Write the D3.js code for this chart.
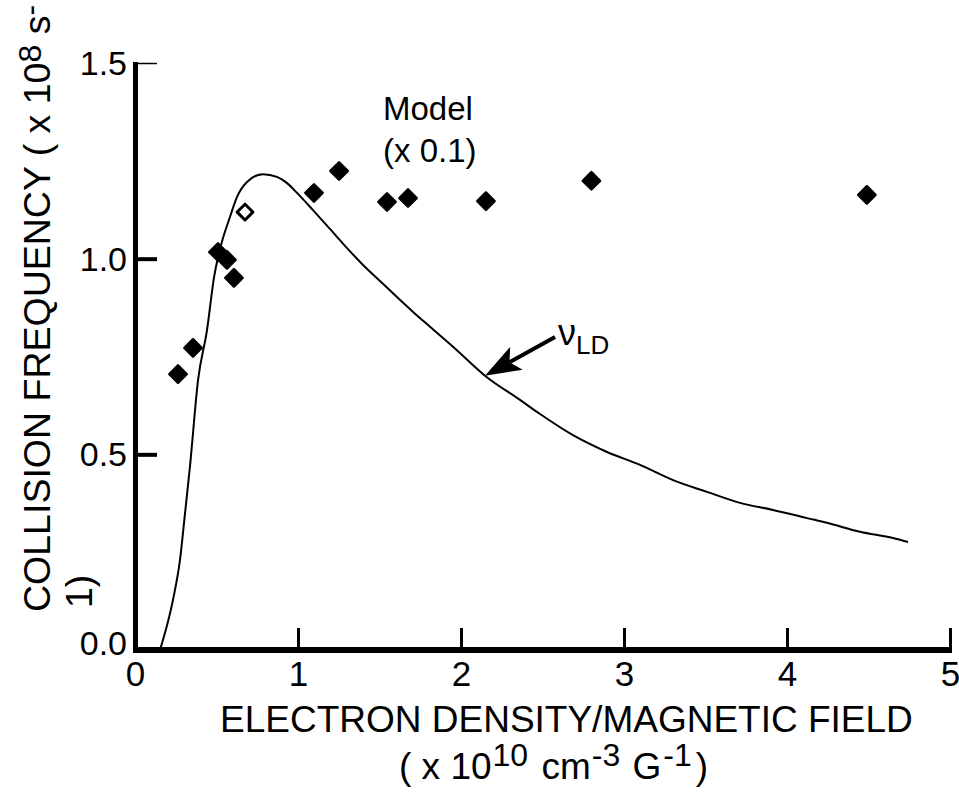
<!DOCTYPE html>
<html>
<head>
<meta charset="utf-8">
<script src="https://cdn.jsdelivr.net/npm/d3@7"></script>
<style>
  html, body { margin: 0; padding: 0; background: #fff; }
  svg { display: block; }
  text { font-family: "Liberation Sans", Arial, Helvetica, sans-serif; fill: #000; }
</style>
</head>
<body>
<svg id="chart" width="959" height="792"></svg>
<script>
// Theory curve: nu_LD versus n_e/B
const curveX = [0.153, 0.172, 0.233, 0.276, 0.307, 0.337, 0.387, 0.442, 0.485, 0.528,
                0.583, 0.626, 0.687, 0.785, 0.871, 0.933, 0.994, 1.092, 1.196, 1.301,
                1.399, 1.503, 1.607, 1.706, 1.810, 1.951, 2.147, 2.362, 2.485, 2.687,
                2.896, 3.098, 3.301, 3.509, 3.712, 3.914, 4.123, 4.245, 4.448, 4.650, 4.742];
const curveY = [0.000, 0.026, 0.128, 0.230, 0.350, 0.468, 0.690, 0.818, 0.953, 1.035,
                1.107, 1.158, 1.196, 1.216, 1.209, 1.193, 1.168, 1.124, 1.076, 1.027,
                0.984, 0.943, 0.902, 0.864, 0.826, 0.775, 0.701, 0.639, 0.603, 0.549,
                0.506, 0.473, 0.434, 0.404, 0.376, 0.358, 0.337, 0.325, 0.302, 0.286, 0.276];

// Model points (x 0.1), filled diamonds
const modelX = [0.264, 0.356, 0.509, 0.564, 0.607, 1.098, 1.252, 1.546, 1.675, 2.153, 2.80, 4.49];
const modelY = [0.705, 0.772, 1.017, 0.997, 0.951, 1.168, 1.224, 1.145, 1.155, 1.147, 1.199, 1.163];

// Open diamond
const openX = [0.675];
const openY = [1.119];

// Axis ticks
const xTicks = [0, 1, 2, 3, 4, 5];
const yTicks = [0.0, 0.5, 1.0, 1.5];

// nu_LD annotation arrow (tail near label, tip on the curve)
const arrowTail = [2.577, 0.800];
const arrowTip = [2.147, 0.701];

const svg = d3.select("#chart");

const x = d3.scaleLinear().domain([0, 5]).range([135, 950]);
const y = d3.scaleLinear().domain([0, 1.5]).range([650, 63]);

// ---- axes ----
const xAxis = d3.axisBottom(x)
  .tickValues(xTicks)
  .tickSize(-22)
  .tickSizeOuter(0)
  .tickPadding(11)
  .tickFormat(d3.format("d"));

const gx = svg.append("g").attr("transform", `translate(0,${y(0)})`).call(xAxis);
gx.select(".domain").remove();
gx.selectAll(".tick line").style("stroke", "#000").style("stroke-width", "3px")
  .filter(d => d === 0).remove();
gx.selectAll(".tick text").attr("font-size", 35).attr("font-family", null);

const yAxis = d3.axisLeft(y)
  .tickValues(yTicks)
  .tickSize(-22)
  .tickSizeOuter(0)
  .tickPadding(8)
  .tickFormat(d3.format(".1f"));

const gy = svg.append("g").attr("transform", `translate(${x(0)},0)`).call(yAxis);
gy.select(".domain").remove();
gy.selectAll(".tick line")
  .style("stroke", "#000")
  .style("stroke-width", d => d === 1.5 ? "1.5px" : "4px")
  .attr("x1", 2);
gy.selectAll(".tick line").filter(d => d === 0).remove();
gy.selectAll(".tick text").attr("font-size", 34).attr("font-family", null)
  .attr("dy", d => d === 0 ? "0.12em" : "0.34em");

// heavy axis frame
svg.append("rect")
  .attr("x", x(0) - 2).attr("width", 5)
  .attr("y", y(1.5) - 1).attr("height", y(0) + 3 - (y(1.5) - 1))
  .attr("fill", "#000");
svg.append("rect")
  .attr("x", x(0) - 2).attr("width", x(5) + 2 - (x(0) - 2))
  .attr("y", y(0) - 3).attr("height", 6)
  .attr("fill", "#000");

// ---- theory curve ----
const line = d3.line()
  .x(d => x(d[0]))
  .y(d => y(d[1]))
  .curve(d3.curveMonotoneX);

svg.append("path")
  .datum(curveX.map((v, i) => [v, curveY[i]]))
  .attr("d", line)
  .attr("fill", "none")
  .style("stroke", "#000")
  .style("stroke-width", "2px");

// ---- model points ----
const diamond = d3.symbol().type(d3.symbolSquare).size(150);

svg.append("g").selectAll("path")
  .data(modelX.map((v, i) => [v, modelY[i]]))
  .join("path")
  .attr("d", diamond)
  .attr("transform", d => `translate(${x(d[0])},${y(d[1])}) rotate(45)`)
  .attr("fill", "#000")
  .style("stroke", "#000")
  .style("stroke-width", "2.5px")
  .attr("stroke-linejoin", "round");

const openDiamond = d3.symbol().type(d3.symbolSquare).size(125);
svg.append("g").selectAll("path")
  .data(openX.map((v, i) => [v, openY[i]]))
  .join("path")
  .attr("d", openDiamond)
  .attr("transform", d => `translate(${x(d[0])},${y(d[1])}) rotate(45)`)
  .attr("fill", "#fff")
  .style("stroke", "#000")
  .style("stroke-width", "3px")
  .attr("stroke-linejoin", "round");

// ---- nu_LD arrow ----
const tx = x(arrowTip[0]), ty = y(arrowTip[1]);
const sx = x(arrowTail[0]), sy = y(arrowTail[1]);
const len = Math.hypot(sx - tx, sy - ty);
const ux = (sx - tx) / len, uy = (sy - ty) / len;
const nx = -uy, ny = ux;
const headLen = 36, headHalf = 13, notch = 28;

svg.append("line")
  .attr("x1", sx).attr("y1", sy)
  .attr("x2", tx + ux * notch).attr("y2", ty + uy * notch)
  .style("stroke", "#000").style("stroke-width", "4px");

svg.append("path")
  .attr("d", [
    [tx, ty],
    [tx + ux * headLen + nx * headHalf, ty + uy * headLen + ny * headHalf],
    [tx + ux * notch, ty + uy * notch],
    [tx + ux * headLen - nx * headHalf, ty + uy * headLen - ny * headHalf]
  ].map((p, i) => (i ? "L" : "M") + p[0] + "," + p[1]).join("") + "Z")
  .attr("fill", "#000");

const nuLabel = svg.append("text")
  .attr("x", sx + 3).attr("y", sy + 8)
  .attr("font-size", 36);
nuLabel.append("tspan").text("ν");
nuLabel.append("tspan").attr("font-size", 26).attr("dy", 9).text("LD");

// ---- Model label ----
svg.append("text").attr("x", 383).attr("y", 120).attr("font-size", 33).text("Model");
svg.append("text").attr("x", 383).attr("y", 162).attr("font-size", 33).text("(x 0.1)");

// ---- axis titles ----
svg.append("text").attr("x", 220).attr("y", 732).attr("font-size", 37)
  .text("ELECTRON DENSITY/MAGNETIC FIELD");

const xt2 = svg.append("text").attr("x", 399).attr("y", 779).attr("font-size", 37);
xt2.append("tspan").text("( x 10");
xt2.append("tspan").attr("font-size", 32).attr("dy", -13).attr("dx", 1).text("10");
xt2.append("tspan").attr("dy", 13).attr("dx", 3).text(" cm");
xt2.append("tspan").attr("font-size", 32).attr("dy", -13).attr("dx", 1).text("-3");
xt2.append("tspan").attr("dy", 13).attr("dx", 2).text(" G");
xt2.append("tspan").attr("font-size", 32).attr("dy", -13).attr("dx", 2).text("-1");
xt2.append("tspan").attr("dy", 13).attr("dx", 4).text(")");

const yt1 = svg.append("text")
  .attr("transform", "translate(50,612) rotate(-90)")
  .attr("font-size", 37.5);
yt1.append("tspan").text("COLLISION FREQUENCY ( x 10");
yt1.append("tspan").attr("font-size", 32).attr("dy", -9).text("8");
yt1.append("tspan").attr("dy", 9).text(" s");
yt1.append("tspan").attr("font-size", 32).attr("dy", -9).text("-");

svg.append("text")
  .attr("transform", "translate(92,608) rotate(-90)")
  .attr("font-size", 37.5)
  .text("1)");
</script>
</body>
</html>
